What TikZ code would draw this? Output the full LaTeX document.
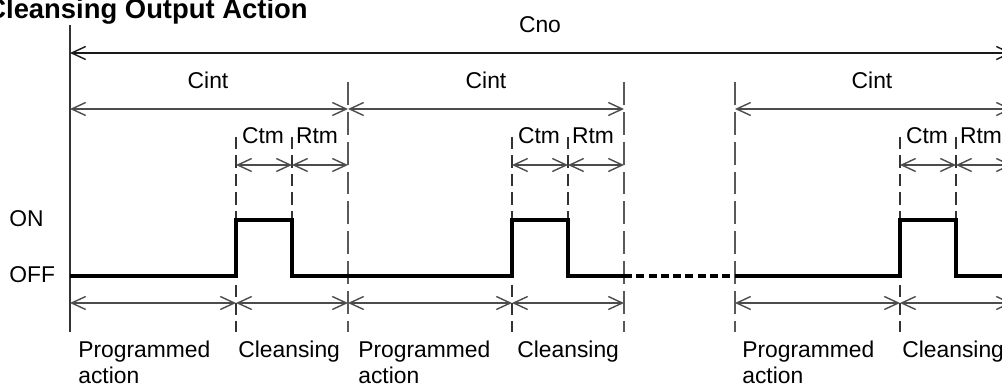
\documentclass[tikz,border=0pt]{standalone}
\usepackage{fontspec}
\setmainfont{Liberation Sans}
\usetikzlibrary{arrows.meta, calc}

\begin{document}
\begin{tikzpicture}[x = 0.02cm, y = -0.02cm,
	font = \fontsize{13}{14.7}\selectfont,
	dimline/.style = {{Straight Barb[length = 2.8mm, width = 2.6mm]}-{Straight Barb[length = 2.8mm, width = 2.6mm]}, black!70, line width = 0.8pt},
	signal/.style = {line width = 2.2pt, line join = miter},
	longdash/.style = {black!65, line width = 0.8pt, dash pattern = on 13pt off 4pt},
	shortdash/.style = {black!80, line width = 0.8pt, dash pattern = on 7pt off 3.5pt},
	lbl/.style = {anchor = base, inner sep = 0pt},
	phase/.style = {anchor = north west, inner sep = 0pt, align = left}]
	\useasboundingbox (0,0) rectangle (1002,385);
	% time marks and rows
	\foreach \n/\x in {p0/70, p1/236, p2/292, p3/348, p4/512, p5/568, p6/624, p7/735, p8/900, p9/956, p10/1012}{
	\coordinate (\n) at (\x,0);
	}
	\foreach \n/\y in {top/25, cno/53, tick/82, cint/109, mark/137, ctm/165, on/220, off/276, bot/303, low/332}{
	\coordinate (\n) at (0,\y);
	}
	\node [anchor = base west, inner sep = 0pt, font = \bfseries\fontsize{15.6}{18}\selectfont] (title) at (-14,19) {Cleansing Output Action};
	% vertical guides
	\draw [black!80, line width = 0.9pt] (p0 |- top) -- (p0 |- low);
	\foreach \p in {p3, p6, p7, p10}{
	\draw [longdash] (\p |- tick) -- (\p |- low);
	}
	\foreach \p in {p1, p4, p8}{
	\draw [shortdash] (\p |- mark) -- (\p |- low);
	}
	\foreach \p in {p2, p5, p9}{
	\draw [shortdash] (\p |- mark) -- (\p |- on);
	}
	% output signal
	\draw [signal] (p0 |- off) -- (p1 |- off) -- (p1 |- on) -- (p2 |- on) -- (p2 |- off) -- (p4 |- off) -- (p4 |- on) -- (p5 |- on) -- (p5 |- off) -- (p6 |- off);
	\draw [signal, dash pattern = on 4.5pt off 2.5pt] (p6 |- off) -- (p7 |- off);
	\draw [signal] (p7 |- off) -- (p8 |- off) -- (p8 |- on) -- (p9 |- on) -- (p9 |- off) -- (p10 |- off);
	% dimensions
	\draw [dimline, black!90] (p0 |- cno) -- (p10 |- cno);
	\node [lbl] (cnolbl) at (540,33) {Cno};
	\foreach \a/\b/\c in {p0/p3/208, p3/p6/486, p7/p10/872}{
	\draw [dimline] (\a |- cint) -- (\b |- cint);
	\node [lbl] (cint-\a) at (\c,89) {Cint};
	}
	\foreach \a/\b/\c in {p1/p2/p3, p4/p5/p6, p8/p9/p10}{
	\draw [dimline] (\a |- ctm) -- (\b |- ctm);
	\draw [dimline] (\b |- ctm) -- (\c |- ctm);
	\node [lbl] (ctm-\a) at ($(\a) + (27,144)$) {Ctm};
	\node [lbl] (rtm-\b) at ($(\b) + (25,144)$) {Rtm};
	}
	\foreach \a/\b in {p0/p1, p1/p3, p3/p4, p4/p6, p7/p8, p8/p10}{
	\draw [dimline] (\a |- bot) -- (\b |- bot);
	}
	% levels and phases
	\node [anchor = base west, inner sep = 0pt] (onlbl) at (9,227) {ON};
	\node [anchor = base west, inner sep = 0pt] (offlbl) at (9,282) {OFF};
	\foreach \x/\t [count = \i] in {78/Programmed\\action, 238/Cleansing, 358/Programmed\\action, 517/Cleansing, 742/Programmed\\action, 902/Cleansing}{
	\node [phase] (phase\i) at (\x,341) {\t};
	}
\end{tikzpicture}
\end{document}
